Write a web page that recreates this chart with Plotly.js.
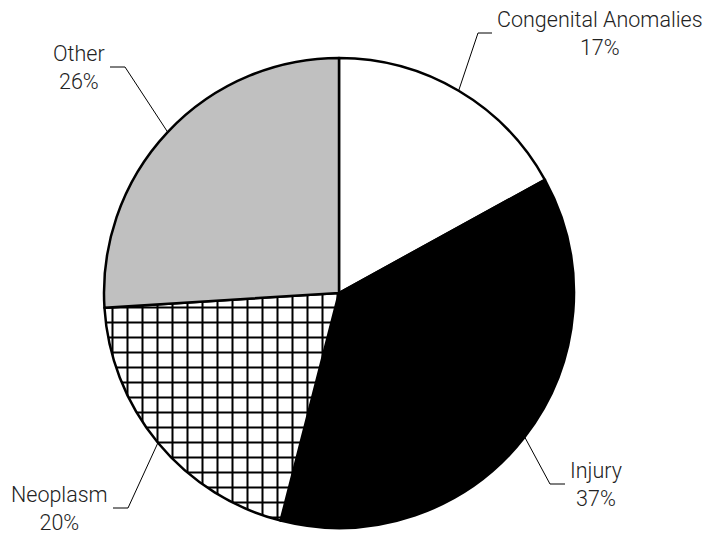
<!DOCTYPE html>
<html><head><meta charset="utf-8">
<script src="https://cdn.plot.ly/plotly-3.0.1.min.js"></script>
<style>html,body{margin:0;padding:0;background:#fff}</style>
</head><body><div id="chart" style="width:707px;height:535px"></div>
<script>
// ---- data ----
const categories = ['Congenital Anomalies', 'Injury', 'Neoplasm', 'Other'];
const values = [17, 37, 20, 26];

// ---- styles ----
const fillColors = ['#ffffff', '#000000', '#ffffff', '#c0c0c0'];
const patternShapes = ['', '', '+', ''];

const W = 707, H = 535;
const CX = 339, CY = 293, R = 235;   // pie centre / radius in px
// label layout: elbow point (ex,ey), end of horizontal tick (hx), text side
const labelLayout = [
  {ex: 478, ey: 33, hx: 492, side: 'left'},
  {ex: 550, ey: 484, hx: 565, side: 'left'},
  {ex: 128, ey: 508, hx: 113, side: 'right'},
  {ex: 125, ey: 67, hx: 110, side: 'right'}
];
const FONT = {family: 'Roboto, Liberation Sans, sans-serif', size: 21.5, color: '#222', weight: 300};

const total = values.reduce((a, b) => a + b, 0);
let cum = 0;
const shapes = [], annotations = [];
values.forEach((v, i) => {
  const mid = (cum + v / 2) / total * 2 * Math.PI;   // clockwise from 12 o'clock
  cum += v;
  const sx = CX + R * Math.sin(mid), sy = CY - R * Math.cos(mid);
  const L = labelLayout[i];
  shapes.push({type: 'path', xref: 'x', yref: 'y',
    path: `M${sx},${sy} L${L.ex},${L.ey} L${L.hx},${L.ey}`,
    line: {color: '#000', width: 1}});
  annotations.push({xref: 'x', yref: 'y', x: L.hx + (L.side === 'left' ? 3 : -3), y: L.ey,
    xanchor: L.side === 'left' ? 'left' : 'right', yanchor: 'middle', align: 'center',
    showarrow: false, font: FONT,
    text: categories[i] + '<br>' + Math.round(v / total * 100) + '%'});
});

const trace = {
  type: 'pie', labels: categories, values: values, sort: false,
  direction: 'clockwise', rotation: 0, textinfo: 'none', hoverinfo: 'none',
  showlegend: false,
  domain: {x: [(CX - R) / W, (CX + R) / W], y: [(H - CY - R) / H, (H - CY + R) / H]},
  marker: {colors: fillColors, line: {color: '#000', width: 2.5},
    pattern: {shape: patternShapes, fgcolor: '#000', bgcolor: '#fff', size: 15, solidity: 0.25, fillmode: 'replace'}}
};

const layout = {
  width: W, height: H, margin: {l: 0, r: 0, t: 0, b: 0},
  paper_bgcolor: '#fff', plot_bgcolor: 'rgba(0,0,0,0)',
  xaxis: {range: [0, W], visible: false, fixedrange: true},
  yaxis: {range: [H, 0], visible: false, fixedrange: true},
  shapes: shapes, annotations: annotations
};
Plotly.newPlot('chart', [trace], layout, {staticPlot: true});
</script></body></html>
